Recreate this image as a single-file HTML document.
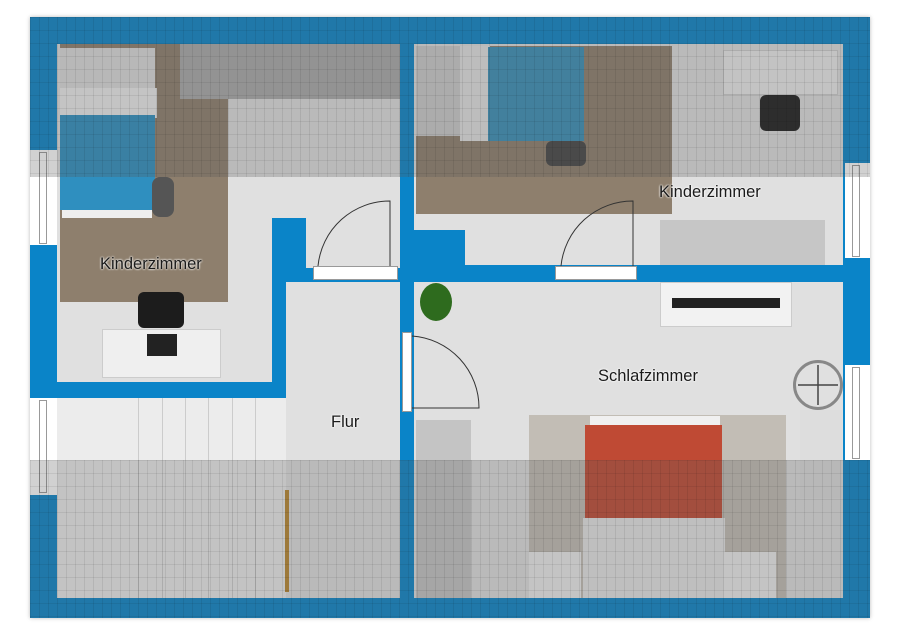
<!DOCTYPE html>
<html><head><meta charset="utf-8"><style>
body{margin:0;width:900px;height:636px;background:#fff;position:relative;overflow:hidden;font-family:"Liberation Sans",sans-serif}
div{position:absolute;box-sizing:border-box}
.b{background:#0a84c8}
.f{background:#e0e0e0}
.w{background:#fff;border:1px solid #999}
.t{font-size:16.5px;color:#1a1a1a;text-shadow:0 0 2px #fff,0 0 2px #fff}
.roof{background:
 repeating-linear-gradient(90deg,rgba(0,0,0,.08) 0 1px,transparent 1px 9px),
 repeating-linear-gradient(180deg,rgba(0,0,0,.07) 0 1px,transparent 1px 13px),
 rgba(90,90,90,.28)}
.rug{background:#8e7f6d}
</style></head><body>
<div class="b" style="left:30px;top:17px;width:840px;height:601px;box-shadow:0 0 4px #bbb"></div>
<div class="f" style="left:57px;top:44px;width:343px;height:174px"></div>
<div class="f" style="left:57px;top:218px;width:215px;height:164px"></div>
<div class="f" style="left:306px;top:218px;width:94px;height:50px"></div>
<div class="w" style="left:313px;top:266px;width:85px;height:14px"></div>
<div class="f" style="left:286px;top:282px;width:114px;height:316px"></div>
<div style="left:57px;top:398px;width:229px;height:200px;background:#ececec"></div>
<div style="left:138px;top:398px;width:1px;height:200px;background:#ccc"></div>
<div style="left:162px;top:398px;width:1px;height:200px;background:#ccc"></div>
<div style="left:185px;top:398px;width:1px;height:200px;background:#ccc"></div>
<div style="left:208px;top:398px;width:1px;height:200px;background:#ccc"></div>
<div style="left:232px;top:398px;width:1px;height:200px;background:#ccc"></div>
<div style="left:255px;top:398px;width:1px;height:200px;background:#ccc"></div>
<div style="left:285px;top:490px;width:4px;height:102px;background:#b8862e"></div>
<div class="f" style="left:414px;top:44px;width:429px;height:221px"></div>
<div class="b" style="left:414px;top:230px;width:51px;height:36px"></div>
<div class="w" style="left:555px;top:266px;width:82px;height:14px"></div>
<div class="f" style="left:414px;top:282px;width:429px;height:316px"></div>
<div class="w" style="left:402px;top:332px;width:10px;height:80px"></div>
<div class="w" style="left:30px;top:150px;width:27px;height:95px;border:none"></div>
<div class="w" style="left:39px;top:152px;width:8px;height:92px"></div>
<div class="w" style="left:30px;top:398px;width:27px;height:97px;border:none"></div>
<div class="w" style="left:39px;top:400px;width:8px;height:93px"></div>
<div class="w" style="left:845px;top:163px;width:25px;height:95px;border:none"></div>
<div class="w" style="left:852px;top:165px;width:8px;height:92px"></div>
<div class="w" style="left:845px;top:365px;width:25px;height:95px;border:none"></div>
<div class="w" style="left:852px;top:367px;width:8px;height:92px"></div>
<div class="rug" style="left:60px;top:44px;width:168px;height:258px"></div>
<div style="left:180px;top:44px;width:220px;height:55px;background:#aaa"></div>
<div style="left:60px;top:48px;width:95px;height:40px;background:#ddd"></div>
<div style="left:60px;top:88px;width:97px;height:30px;background:#eee"></div>
<div style="left:60px;top:115px;width:95px;height:95px;background:#2f8fbf"></div>
<div style="left:62px;top:210px;width:90px;height:8px;background:#eee"></div>
<div style="left:152px;top:177px;width:22px;height:40px;background:#555;border-radius:8px"></div>
<div style="left:138px;top:292px;width:46px;height:36px;background:#1c1c1c;border-radius:6px"></div>
<div style="left:102px;top:329px;width:119px;height:49px;background:#efefef;border:1px solid #ccc"></div>
<div style="left:147px;top:334px;width:30px;height:22px;background:#222"></div>
<div class="rug" style="left:416px;top:46px;width:256px;height:168px"></div>
<div style="left:416px;top:46px;width:46px;height:90px;background:#ccc"></div>
<div style="left:460px;top:46px;width:30px;height:95px;background:#e4e4e4"></div>
<div style="left:488px;top:47px;width:96px;height:94px;background:#3a8fb8"></div>
<div style="left:546px;top:141px;width:40px;height:25px;background:#444;border-radius:6px"></div>
<div style="left:723px;top:50px;width:115px;height:45px;background:#ececec;border:1px solid #ccc"></div>
<div style="left:760px;top:95px;width:40px;height:36px;background:#1c1c1c;border-radius:6px"></div>
<div style="left:660px;top:220px;width:165px;height:45px;background:#c6c6c6"></div>
<div style="left:420px;top:283px;width:32px;height:38px;background:#2e6b1e;border-radius:50%"></div>
<div style="left:660px;top:282px;width:132px;height:45px;background:#f2f2f2;border:1px solid #ccc"></div>
<div style="left:672px;top:298px;width:108px;height:10px;background:#222"></div>
<div style="left:793px;top:360px;width:50px;height:50px;border:3px solid #888;border-radius:50%"></div>
<div style="left:416px;top:420px;width:55px;height:178px;background:#c4c4c4"></div>
<div style="left:529px;top:415px;width:257px;height:183px;background:#c2bdb5"></div>
<div style="left:590px;top:416px;width:130px;height:10px;background:#f0f0f0"></div>
<div style="left:585px;top:425px;width:137px;height:95px;background:#bf4a34"></div>
<div style="left:583px;top:518px;width:142px;height:80px;background:#e6e6e6"></div>
<div style="left:529px;top:552px;width:52px;height:46px;background:#eee"></div>
<div style="left:724px;top:552px;width:52px;height:46px;background:#eee"></div>
<div style="left:800px;top:410px;width:42px;height:88px;background:#ddd"></div>
<svg style="position:absolute;left:0;top:0" width="900" height="636">
<g fill="none" stroke="#333" stroke-width="1">
<path d="M318 266 A72 72 0 0 1 390 201 L390 266"/>
<path d="M561 266 A72 72 0 0 1 633 201 L633 266"/>
<path d="M412 336 A72 72 0 0 1 479 408 L412 408"/>
</g>
<g stroke="#444" stroke-width="1.5"><line x1="818" y1="365" x2="818" y2="405"/><line x1="798" y1="385" x2="838" y2="385"/></g>
</svg>
<div class="roof" style="left:30px;top:17px;width:840px;height:160px"></div>
<div class="roof" style="left:30px;top:460px;width:840px;height:158px"></div>
<div class="t" style="left:100px;top:255px">Kinderzimmer</div>
<div class="t" style="left:659px;top:183px">Kinderzimmer</div>
<div class="t" style="left:598px;top:367px">Schlafzimmer</div>
<div class="t" style="left:331px;top:413px">Flur</div>
</body></html>
